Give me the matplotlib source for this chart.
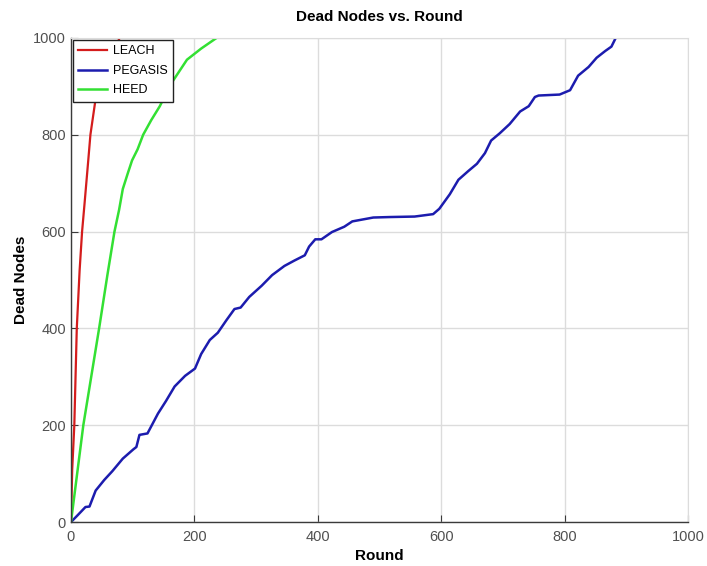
import numpy as np
from matplotlib import pyplot as plt

# --- data (round, dead nodes)
leach_round = [0, 2, 5.4, 9.4, 14, 18, 22, 28, 31.5, 39, 42, 55, 68, 79]
leach_dead = [0, 109, 200, 400, 520, 600, 658, 747, 800, 866, 886, 935, 972, 1000]

heed_round = [0, 20, 45.6, 59, 70.5, 78, 84, 92, 99, 108, 117, 130, 144, 161, 175, 188, 211, 236]
heed_dead = [0, 200, 400, 510, 600, 645, 688, 720, 747, 770, 800, 830, 859, 903, 930, 955, 978, 1000]

pegasis_round = [0, 10, 23.5, 30, 40, 54, 67, 84, 101, 106, 111, 124, 141, 154, 168, 185, 201,
                 211, 225, 238, 252, 265, 275, 289, 309, 326, 346, 362, 379, 386, 396, 406,
                 423, 443, 456, 490, 517, 557, 587, 597, 614, 628, 644, 658, 671, 681, 695,
                 711, 728, 742, 752, 758, 792, 809, 822, 839, 852, 866, 876, 883]
pegasis_dead = [0, 13, 31, 32, 65, 87, 105, 131, 150, 155, 180, 183, 224, 250, 280, 302, 317,
                347, 376, 391, 417, 440, 443, 465, 488, 510, 529, 540, 551, 569, 584, 584,
                599, 610, 621, 629, 630, 631, 636, 647, 677, 707, 725, 740, 762, 788, 803,
                822, 848, 859, 878, 881, 883, 892, 922, 940, 959, 973, 982, 1000]

plt.rcParams['font.family'] = ['Liberation Sans', 'DejaVu Sans']

fig = plt.figure(figsize=(7.07, 5.66), dpi=100)
ax = fig.add_axes([0.1004, 0.0777, 0.8726, 0.8553])

ax.plot(leach_round, leach_dead, color='#d41c1c', lw=1.6, label='LEACH')
ax.plot(pegasis_round, pegasis_dead, color='#1c1cae', lw=1.8, label='PEGASIS')
ax.plot(heed_round, heed_dead, color='#33e033', lw=1.8, label='HEED')

ax.set_xlim(0, 1000)
ax.set_ylim(0, 1000)
ax.set_xticks(np.arange(0, 1001, 200))
ax.set_yticks(np.arange(0, 1001, 200))
ax.grid(True, color='#dcdcdc', lw=1.0)
ax.set_axisbelow(True)
ax.tick_params(direction='in', length=5, colors='#3a3a3a', labelsize=10.5, labelcolor='#505050')
ax.tick_params(axis='x', pad=6)
for s in ['left', 'bottom']:
    ax.spines[s].set_color('#3a3a3a')
    ax.spines[s].set_linewidth(1.0)
for s in ['top', 'right']:
    ax.spines[s].set_color('#dcdcdc')

ax.set_title('Dead Nodes vs. Round', fontsize=11, fontweight='bold', pad=12)
ax.set_xlabel('Round', fontsize=11, fontweight='bold', labelpad=3)
ax.set_ylabel('Dead Nodes', fontsize=11, fontweight='bold', labelpad=4)

leg = ax.legend(loc='upper left', fontsize=9, frameon=True, fancybox=False, framealpha=1,
                borderaxespad=0.15, handlelength=2.3, labelspacing=0.6,
                handletextpad=0.45, borderpad=0.45)
leg.get_frame().set_edgecolor('#222222')
leg.get_frame().set_linewidth(1.0)
leg.set_zorder(5)

fig.savefig('out.png', dpi=100)
